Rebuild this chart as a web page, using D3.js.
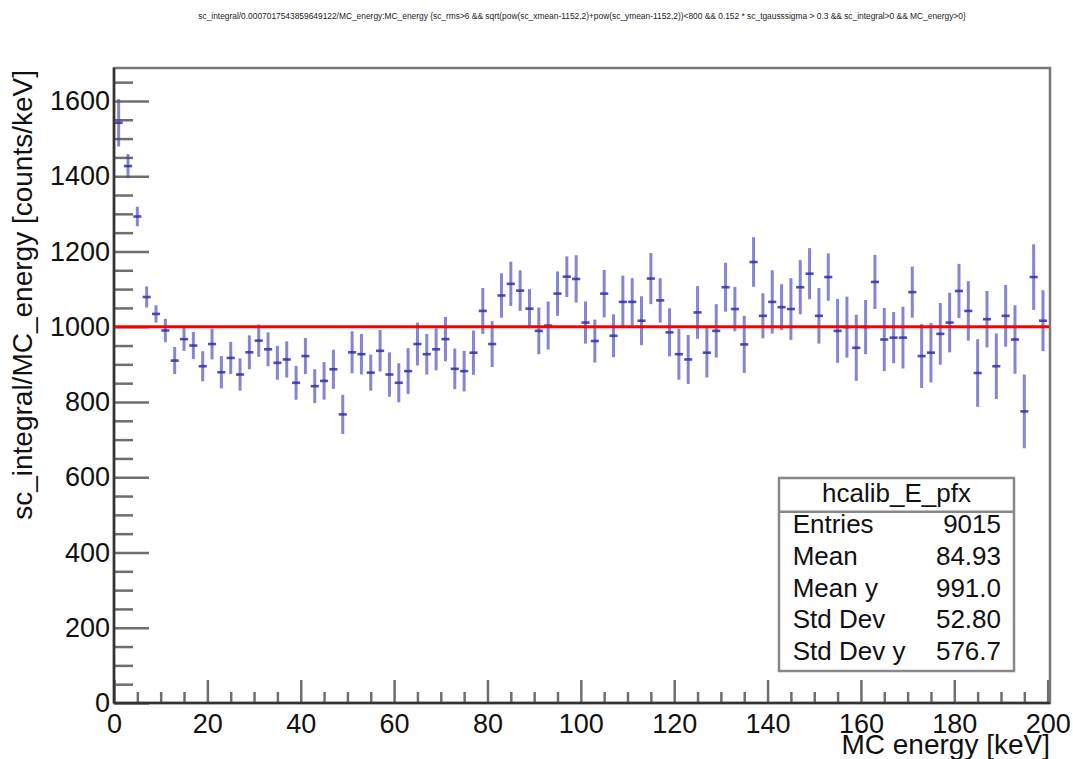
<!DOCTYPE html>
<html>
<head>
<meta charset="utf-8">
<script src="https://cdn.jsdelivr.net/npm/d3@7"></script>
<style>
  html, body { margin: 0; padding: 0; background: #fff; }
  svg { display: block; font-family: "Liberation Sans", Arial, sans-serif; }
</style>
</head>
<body>
<div id="chart"></div>
<script>
// ---------------------------------------------
// Data (profile of sc_integral/MC_energy vs MC_energy, 2 keV bins)
// ---------------------------------------------
const binCenters = d3.range(100).map(i => 2 * i + 1);

const profileMeans = [
  1542, 1427, 1293, 1079, 1034, 990, 910, 967, 950, 895,
  954, 879, 917, 873, 932, 963, 940, 904, 913, 851,
  922, 842, 856, 887, 767, 932, 927, 878, 936, 873,
  851, 882, 954, 927, 940, 967, 888, 882, 931, 1042,
  954, 1083, 1114, 1096, 1048, 989, 1003, 1088, 1133, 1127,
  1011, 962, 1088, 976, 1066, 1066, 1016, 1128, 1070, 985,
  927, 913, 1038, 931, 989, 1105, 1047, 953, 1172, 1029,
  1066, 1052, 1047, 1105, 1141, 1029, 1132, 989, 999, 944,
  999, 1119, 966, 971, 971, 1092, 922, 931, 981, 1011,
  1095, 1042, 877, 1020, 895, 1029, 966, 775, 1132, 1016
];

const profileErrors = [
  63, 32, 26, 28, 23, 31, 36, 31, 36, 40,
  41, 43, 43, 43, 45, 43, 45, 45, 48, 45,
  48, 45, 50, 52, 52, 56, 54, 48, 55, 59,
  52, 61, 57, 54, 56, 59, 54, 54, 59, 61,
  61, 59, 59, 54, 52, 62, 64, 59, 54, 63,
  56, 57, 63, 57, 70, 63, 65, 68, 59, 64,
  68, 65, 70, 66, 71, 65, 59, 76, 66, 60,
  84, 61, 82, 72, 68, 74, 63, 85, 81, 88,
  72, 72, 84, 68, 82, 68, 85, 79, 82, 79,
  72, 79, 90, 75, 87, 82, 91, 98, 87, 81
];

const refLevel = 1000;

const statsTitle = "hcalib_E_pfx";
const statsLabels = ["Entries", "Mean", "Mean y", "Std Dev", "Std Dev y"];
const statsValues = ["9015", "84.93", "991.0", "52.80", "576.7"];

const xMajorTicks = d3.range(0, 201, 20);
const xMinorTicks = d3.range(0, 201, 5).filter(v => v % 20 !== 0);
const yMajorTicks = d3.range(0, 1601, 200);
const yMinorTicks = d3.range(0, 1651, 50).filter(v => v % 200 !== 0);

const plotTitle = "sc_integral/0.0007017543859649122/MC_energy:MC_energy {sc_rms>6 && sqrt(pow(sc_xmean-1152,2)+pow(sc_ymean-1152,2))<800 && 0.152 * sc_tgausssigma > 0.3 && sc_integral>0 && MC_energy>0}";

// ---------------------------------------------
// Layout
// ---------------------------------------------
const width = 1073, height = 759;
const frame = { left: 114, right: 1050, top: 68, bottom: 703 };

const x = d3.scaleLinear().domain([0, 200.5]).range([frame.left, frame.right]);
const y = d3.scaleLinear().domain([0, 1687.6]).range([frame.bottom, frame.top]);

const svg = d3.select("#chart").append("svg")
  .attr("width", width)
  .attr("height", height);

// Title
svg.append("text")
  .attr("x", 582)
  .attr("y", 19)
  .attr("text-anchor", "middle")
  .style("font-size", "8.4px")
  .style("fill", "#222")
  .text(plotTitle);

// Frame
svg.append("rect")
  .attr("x", frame.left)
  .attr("y", frame.top)
  .attr("width", frame.right - frame.left)
  .attr("height", frame.bottom - frame.top)
  .attr("fill", "none")
  .attr("stroke", "#777")
  .attr("stroke-width", 2.5);

// ---------------------------------------------
// Axes (ROOT style: ticks inside the frame)
// ---------------------------------------------
function styleAxis(g) {
  g.select(".domain").remove();
  g.selectAll(".tick line").attr("stroke", "#6e6e6e").attr("stroke-width", 2.5);
  g.selectAll(".tick text").style("font-size", "27px").style("fill", "#111");
}

svg.append("g")
  .attr("transform", `translate(0,${frame.bottom})`)
  .call(d3.axisBottom(x).tickValues(xMinorTicks).tickFormat("").tickSizeInner(-11).tickSizeOuter(0))
  .call(styleAxis);

svg.append("g")
  .attr("transform", `translate(0,${frame.bottom})`)
  .call(d3.axisBottom(x).tickValues(xMajorTicks).tickFormat(d3.format("d")).tickSizeInner(-23).tickSizeOuter(0).tickPadding(11))
  .call(styleAxis);

svg.append("g")
  .attr("transform", `translate(${frame.left},0)`)
  .call(d3.axisLeft(y).tickValues(yMinorTicks).tickFormat("").tickSizeInner(-19).tickSizeOuter(0))
  .call(styleAxis);

svg.append("g")
  .attr("transform", `translate(${frame.left},0)`)
  .call(d3.axisLeft(y).tickValues(yMajorTicks).tickFormat(d3.format("d")).tickSizeInner(-35).tickSizeOuter(0).tickPadding(4))
  .call(styleAxis);

// axis lines
svg.append("line")
  .attr("x1", frame.left).attr("x2", frame.left)
  .attr("y1", frame.top).attr("y2", frame.bottom)
  .attr("stroke", "#333").attr("stroke-width", 2.5);
svg.append("line")
  .attr("x1", frame.left).attr("x2", frame.right)
  .attr("y1", frame.bottom).attr("y2", frame.bottom)
  .attr("stroke", "#333").attr("stroke-width", 2.5);

// Axis titles
svg.append("text")
  .attr("x", frame.right)
  .attr("y", 754)
  .attr("text-anchor", "end")
  .style("font-size", "28px")
  .style("fill", "#111")
  .text("MC energy [keV]");

svg.append("text")
  .attr("transform", `translate(32,${frame.top + 2}) rotate(-90)`)
  .attr("text-anchor", "end")
  .style("font-size", "28px")
  .style("fill", "#111")
  .text("sc_integral/MC_energy [counts/keV]");

// ---------------------------------------------
// Profile points with error bars
// ---------------------------------------------
const points = binCenters.map((c, i) => ({ c, v: profileMeans[i], e: profileErrors[i] }));

const pts = svg.append("g");
pts.selectAll("line.ey")
  .data(points)
  .join("line")
  .attr("class", "ey")
  .attr("x1", d => x(d.c)).attr("x2", d => x(d.c))
  .attr("y1", d => y(d.v - d.e)).attr("y2", d => y(d.v + d.e))
  .attr("stroke", "#4444b8")
  .attr("stroke-opacity", 0.65)
  .attr("stroke-width", 3);

pts.selectAll("line.ex")
  .data(points)
  .join("line")
  .attr("class", "ex")
  .attr("x1", d => x(d.c - 1) + 0.6).attr("x2", d => x(d.c + 1) - 0.6)
  .attr("y1", d => y(d.v)).attr("y2", d => y(d.v))
  .attr("stroke", "#3030a8")
  .attr("stroke-opacity", 0.85)
  .attr("stroke-width", 2.6);

// Reference line
svg.append("line")
  .attr("x1", frame.left + 1).attr("x2", frame.right - 1)
  .attr("y1", y(refLevel)).attr("y2", y(refLevel))
  .attr("stroke", "#ff0000")
  .attr("stroke-width", 3);

// ---------------------------------------------
// Stats box
// ---------------------------------------------
const box = { x: 779, y: 478, w: 235, h: 193, header: 33.7, row: 31.7 };
const stats = svg.append("g");
stats.append("rect")
  .attr("x", box.x).attr("y", box.y)
  .attr("width", box.w).attr("height", box.h)
  .attr("fill", "#fff")
  .attr("stroke", "#888")
  .attr("stroke-width", 2.5);
stats.append("line")
  .attr("x1", box.x).attr("x2", box.x + box.w)
  .attr("y1", box.y + box.header).attr("y2", box.y + box.header)
  .attr("stroke", "#888")
  .attr("stroke-width", 2.5);
stats.append("text")
  .attr("x", box.x + box.w / 2)
  .attr("y", box.y + 24)
  .attr("text-anchor", "middle")
  .style("font-size", "26px")
  .style("fill", "#111")
  .text(statsTitle);

statsLabels.forEach((lab, i) => {
  const by = 533.3 + i * box.row;
  stats.append("text")
    .attr("x", 792.7).attr("y", by)
    .style("font-size", "26px").style("fill", "#111")
    .text(lab);
  stats.append("text")
    .attr("x", 1001).attr("y", by)
    .attr("text-anchor", "end")
    .style("font-size", "26px").style("fill", "#111")
    .text(statsValues[i]);
});
</script>
</body>
</html>
